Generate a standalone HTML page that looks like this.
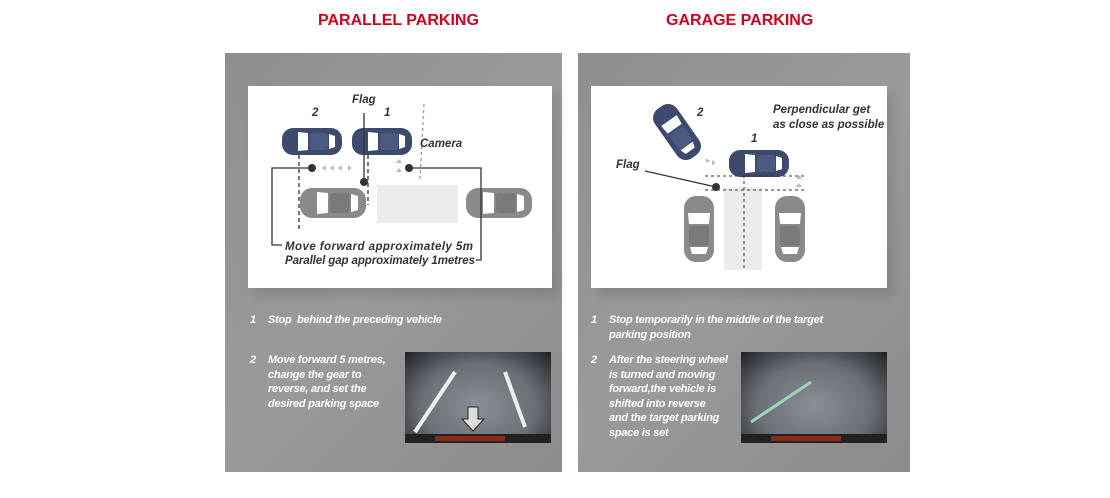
<!DOCTYPE html>
<html><head><meta charset="utf-8"><style>
body{margin:0;width:1110px;height:498px;background:#fff;position:relative;overflow:hidden;font-family:"Liberation Sans",sans-serif}
.t{position:absolute;top:12px;color:#d0021b;font-weight:bold;font-size:16px;font-family:"Liberation Sans",sans-serif}
.p{position:absolute;top:53px;height:419px;background:linear-gradient(135deg,#8f8f8f 0%,#9a9a9a 50%,#8c8c8c 100%)}
.w{position:absolute;top:86px;height:202px;background:#fff;box-shadow:6px 8px 10px rgba(0,0,0,0.12)}
.tx{position:absolute;color:#fff;font-weight:bold;font-style:italic;font-size:11px;line-height:14.5px;letter-spacing:-0.25px}
.cam{position:absolute;top:352px;width:146px;height:91px;background:radial-gradient(ellipse at 50% 60%,#8a8f96 0%,#6b7077 55%,#1e2226 100%);overflow:hidden}
</style></head><body>
<div class="t" style="left:318px">PARALLEL PARKING</div>
<div class="t" style="left:666px">GARAGE PARKING</div>
<div class="p" style="left:225px;width:337px"></div>
<div class="p" style="left:578px;width:332px"></div>
<div class="w" style="left:248px;width:304px"></div>
<div class="w" style="left:591px;width:296px"></div>
<svg width="1110" height="498" style="position:absolute;left:0;top:0">
<defs>
<g id="cb"><rect x="0" y="0" width="60" height="27" rx="11" fill="#3d4a6e"/><path d="M16 4 L26 5 L26 22 L16 23 Z" fill="#fff"/><rect x="28" y="5" width="18" height="17" rx="3" fill="#4c5a80"/><path d="M47 6 L53 8 L53 19 L47 21Z" fill="#fff"/></g>
<g id="cg"><rect x="0" y="0" width="66" height="30" rx="12" fill="#8a8a8a"/><path d="M17 4 L28 5 L28 25 L17 26 Z" fill="#fff"/><rect x="30" y="5" width="20" height="20" rx="3" fill="#7a7a7a"/><path d="M51 6 L58 8 L58 22 L51 24Z" fill="#fff"/></g>
</defs>
<use href="#cb" x="282" y="128"/><use href="#cb" x="352" y="128"/>
<use href="#cg" x="300" y="188"/><use href="#cg" x="466" y="188"/>
<rect x="377" y="185" width="81" height="38" fill="#ececec"/>
<g stroke="#333" stroke-width="1.3" fill="none">
<path d="M312 168 H272 V245 H282"/><path d="M409 168 H481 V260 H476"/><path d="M364 113 V182"/>
<path d="M299 155 V230 M368 155 V205" stroke-dasharray="4 3"/>
<path d="M424 104 L420 180" stroke-dasharray="3 3" stroke="#999"/>
</g>
<circle cx="312" cy="168" r="4" fill="#333"/><circle cx="409" cy="168" r="4" fill="#333"/><circle cx="364" cy="182" r="4" fill="#333"/>
<g fill="#bbb"><path d="M322 168 l4-3v6z M330 168 l4-3v6z M338 168 l4-3v6z M352 168 l-4-3v6z"/><path d="M396 163 l3-4 3 4z M396 172 l3-4 3 4z"/></g>
<g font-style="italic" font-weight="bold" font-size="11.5" fill="#333" font-family="Liberation Sans,sans-serif">
<text x="352" y="103">Flag</text><text x="312" y="116">2</text><text x="384" y="116">1</text><text x="420" y="147">Camera</text>
<text x="285" y="250" textLength="188">Move forward approximately 5m</text><text x="285" y="264" textLength="190">Parallel gap approximately 1metres</text>
<text x="616" y="168">Flag</text><text x="697" y="116">2</text><text x="751" y="142">1</text>
<text x="773" y="113">Perpendicular get</text><text x="773" y="128">as close as possible</text>
</g>
<rect x="724" y="187" width="38" height="83" fill="#ececec"/>
<use href="#cb" x="729" y="150"/>
<g transform="translate(677,132) rotate(55) translate(-30,-13.5)"><use href="#cb"/></g>
<g transform="translate(700,229) rotate(90) translate(-33,-14)"><use href="#cg"/></g>
<g transform="translate(791,229) rotate(90) translate(-33,-14)"><use href="#cg"/></g>
<g stroke="#333" stroke-width="1" fill="none" stroke-dasharray="3 3"><path d="M705 176 H807 M705 190 H807 M744 175 V270"/></g>
<path d="M645 171 L716 187" stroke="#333" stroke-width="1.3"/><circle cx="716" cy="187" r="4" fill="#333"/>
<g fill="#bbb"><path d="M706 158 l4 3-4 2z M712 160 l4 3-4 2z M796 179 l3-4 3 4z M796 187 l3-4 3 4z"/></g>
</svg>
<div class="tx" style="left:250px;top:313px">1</div><div class="tx" style="left:268px;top:313px">Stop&nbsp; behind the preceding vehicle</div>
<div class="tx" style="left:250px;top:353px">2</div><div class="tx" style="left:268px;top:353px">Move forward 5 metres,<br>change the gear to<br>reverse, and set the<br>desired parking space</div>
<div class="tx" style="left:591px;top:313px">1</div><div class="tx" style="left:609px;top:313px">Stop temporarily in the middle of the target<br>parking position</div>
<div class="tx" style="left:591px;top:353px">2</div><div class="tx" style="left:609px;top:353px">After the steering wheel<br>is turned and moving<br>forward,the vehicle is<br>shifted into reverse<br>and the target parking<br>space is set</div>
<div class="cam" style="left:405px"><svg width="146" height="91"><path d="M10 80 L50 20 M100 20 L120 75" stroke="#eee" stroke-width="4"/><path d="M63 55 h10 v12 h6 l-11 12 -11-12 h6z" fill="#ddd" stroke="#222"/><rect x="0" y="82" width="146" height="9" fill="#222"/><rect x="30" y="84" width="70" height="5" fill="#8a2a1a"/></svg></div>
<div class="cam" style="left:741px"><svg width="146" height="91"><path d="M10 70 L70 30" stroke="#9fd8b0" stroke-width="3"/><rect x="0" y="82" width="146" height="9" fill="#222"/><rect x="30" y="84" width="70" height="5" fill="#8a2a1a"/></svg></div>
</body></html>
